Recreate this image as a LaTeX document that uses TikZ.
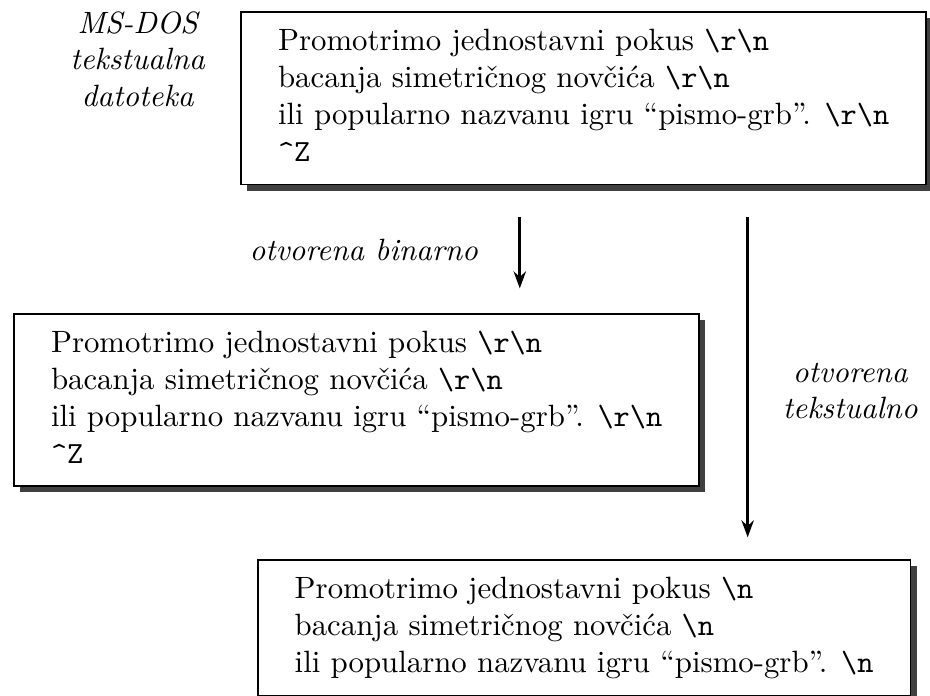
\documentclass[tikz,border=0pt]{standalone}
\usepackage{amsmath}
\usetikzlibrary{arrows.meta,shadows}

\newcommand{\dosCRLF}{\texttt{\textbackslash r\textbackslash n}}
\newcommand{\unixLF}{\texttt{\textbackslash n}}
\newcommand{\ctrlZ}{\texttt{\textasciicircum Z}\vphantom{p}}

\tikzset{
  datoteka/.style={draw, semithick, fill=white, align=left, anchor=north west,
    inner xsep=12pt, inner ysep=5.5pt,
    drop shadow={shadow xshift=2pt, shadow yshift=-2pt, fill=black!75, opacity=1}},
  opis/.style={font=\itshape, align=center, anchor=base},
  strelica/.style={line width=1pt, -{Stealth[length=5.5pt,width=4pt,inset=1.8pt]}}
}

\begin{document}
\begin{tikzpicture}
  \useasboundingbox (0,0) rectangle (10.61,-7.93);
  % ulazna datoteka
  \node[opis] (ms) at (1.57,-1.22) {MS-DOS\\tekstualna\\datoteka};
  \node[datoteka] (dos) at (2.74,-0.13)
    {Promotrimo jednostavni pokus \dosCRLF\\
     bacanja simetričnog novčića \dosCRLF\\
     ili popularno nazvanu igru “pismo-grb”. \dosCRLF\\
     \ctrlZ};
  % binarno
  \node[datoteka] (bin) at (0.15,-3.57)
    {Promotrimo jednostavni pokus \dosCRLF\\
     bacanja simetričnog novčića \dosCRLF\\
     ili popularno nazvanu igru “pismo-grb”. \dosCRLF\\
     \ctrlZ};
  % tekstualno
  \node[datoteka] (txt) at (2.93,-6.38)
    {Promotrimo jednostavni pokus \unixLF\\
     bacanja simetričnog novčića \unixLF\\
     ili popularno nazvanu igru “pismo-grb”. \unixLF};
  \coordinate (xbin) at (5.93,0);
  \coordinate (xtxt) at (8.53,0);
  \draw[strelica, shorten <=0.36cm, shorten >=0.28cm] (dos.south -| xbin) -- (bin.north -| xbin);
  \draw[strelica, shorten <=0.36cm, shorten >=0.25cm] (dos.south -| xtxt) -- (txt.north -| xtxt);
  \node[opis] (lbin) at (4.15,-2.97) {otvorena binarno};
  \node[opis] (ltxt) at (9.70,-4.78) {otvorena\\tekstualno};
\end{tikzpicture}
\end{document}
